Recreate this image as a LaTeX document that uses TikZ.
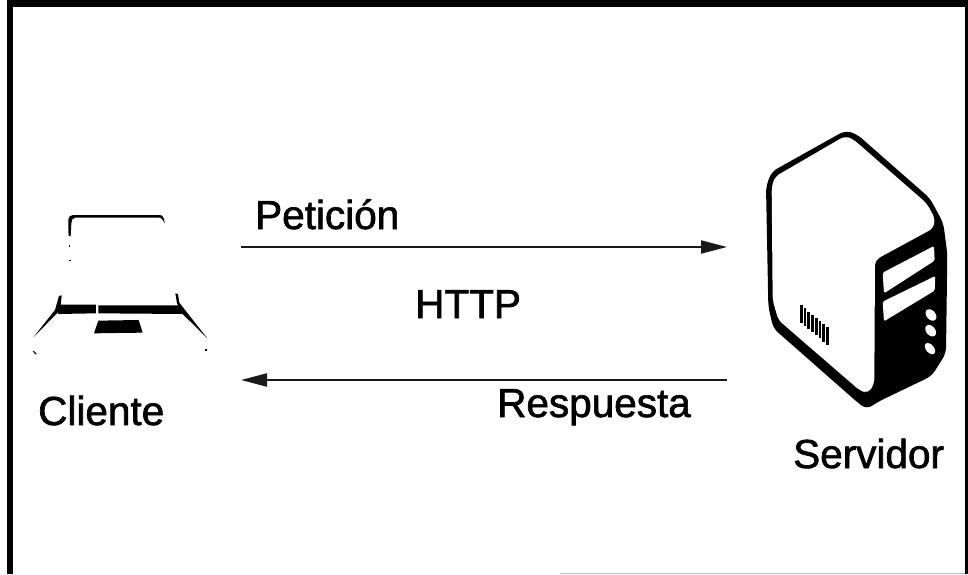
\documentclass[tikz,border=0pt]{standalone}
\usepackage{fontspec}
\setmainfont{Liberation Sans}[FakeBold=1.6]
\usetikzlibrary{arrows.meta}
\tikzset{
  lbl/.style={inner sep=0pt,anchor=base west,font=\fontsize{40.5}{44}\selectfont,text=black},
  link/.style={line width=2pt,draw=black!90,-{Triangle[length=26pt,width=13pt]}},
  slot/.style={fill=white,rounded corners=1.5pt},
  knob/.style={fill=white}
}
\begin{document}
\begin{tikzpicture}[x=1pt,y=-1pt]
\useasboundingbox (0,0) rectangle (968,574);
\fill[white] (0,0) rectangle (968,574);
% frame
\fill[black] (7,0) rectangle (968,7);
\fill[black] (7,0) rectangle (13,574);
\fill[black] (965,0) rectangle (968,574);
\fill[black!25] (560,573) rectangle (965,574);
% labels
\node[lbl] (pet) at (255,229) {Petición};
\node[lbl] (http) at (415,318) {HTTP};
\node[lbl] (res) at (497,417) {Respuesta};
\node[lbl] (cli) at (38,425) {Cliente};
\node[lbl] (ser) at (793,468) {Servidor};
% connectors
\coordinate (a1) at (241,247);
\coordinate (a2) at (727,247);
\coordinate (b1) at (727,380);
\coordinate (b2) at (241,380);
\draw[link] (a1) -- (a2);
\draw[link] (b1) -- (b2);
% client
\begin{scope}[shift={(0,190)},x=0.3333pt,y=-0.3333pt]
\fill[black] (205,120) -- (205,88) to[out=90,in=180] (220,75) -- (480,75) to[out=0,in=110] (495,100) -- (488,90) to[out=120,in=0] (478,83) -- (225,83) to[out=180,in=90] (214,100) -- (212,138) -- (206,138) -- cycle;
\fill[black] (207,165) rectangle (209,172);
\fill[black] (207,210) rectangle (213,214);
\fill[black] (180,344) -- (288,344) -- (288,370) -- (174,372) -- cycle;
\fill[black] (295,346) -- (535,346) -- (550,372) -- (295,370) -- cycle;
\fill[black] (177,318) -- (185,316) -- (181,360) -- (100,442) -- (165,360) -- cycle;
\fill[black] (526,310) -- (534,312) -- (538,338) -- (622,445) -- (548,372) -- (531,340) -- cycle;
\fill[black] (295,392) -- (416,390) -- (428,428) -- (282,430) -- cycle;
\fill[black] (98,483) -- (102,483) -- (110,492) -- (107,494) -- cycle;
\fill[black] (615,478) rectangle (620,483);
\end{scope}
% server
\begin{scope}[shift={(740,120)},x=0.3333pt,y=-0.3333pt]
\fill[black,rounded corners=6pt] (315,32) -- (350,42) -- (570,235) -- (610,310) -- (622,400) -- (618,700) -- (575,768) -- (415,845) -- (380,868) -- (350,845) -- (100,625) -- (85,560) -- (78,200) -- (95,155) -- cycle;
\fill[white,rounded corners=5pt] (315,48) -- (340,58) -- (560,250) -- (585,295) -- (580,325) -- (405,420) -- (403,790) -- (385,820) -- (360,812) -- (115,600) -- (98,540) -- (95,200) -- (105,170) -- cycle;
\fill[slot] (428,458) -- (582,378) -- (584,422) -- (432,520) -- cycle;
\fill[slot] (428,545) -- (586,468) -- (584,512) -- (432,604) -- cycle;
\fill[knob,rotate around={-50:(573,585)}] (573,585) ellipse [x radius=6.5pt,y radius=4.5pt];
\fill[knob,rotate around={-50:(572,632)}] (572,632) ellipse [x radius=6.5pt,y radius=4.5pt];
\fill[knob,rotate around={-50:(570,686)}] (570,686) ellipse [x radius=6.5pt,y radius=4pt];
\foreach \i in {0,...,7}{
  \draw[line width=2.8pt,black] ({184+11.2*\i},{556+9.5*\i}) -- ({184+11.2*\i},{608+9.5*\i});
}
\end{scope}
\end{tikzpicture}
\end{document}
